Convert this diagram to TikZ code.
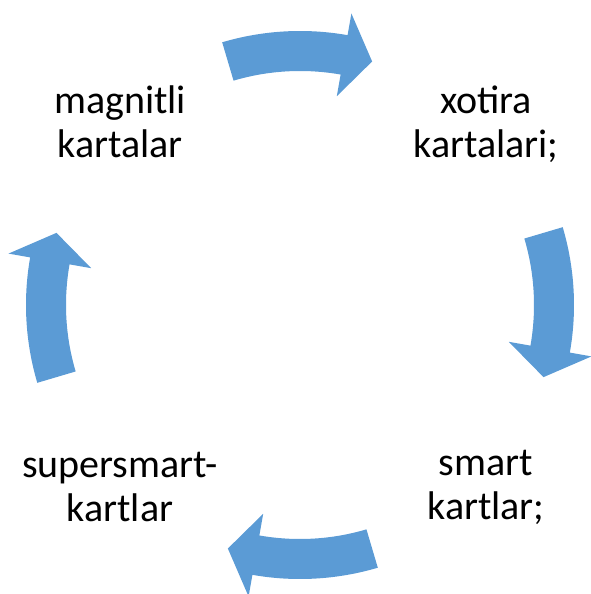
\documentclass[tikz,border=0pt]{standalone}
\usepackage{fontspec}
\setmainfont{Carlito}
\definecolor{arrowblue}{HTML}{5B9BD5}
\tikzset{
  lbl/.style={align=center, inner sep=0pt, font=\fontsize{40}{44}\selectfont, text=black},
  cyc/.style={fill=arrowblue, draw=none}
}
\newcommand{\cycarrow}[1]{%
  \fill[cyc] ({#1+16.5}:274pt) arc[start angle={#1+16.5}, end angle={#1-10}, radius=274pt]
    -- ({#1-10}:296pt) -- ({#1-16.5}:254pt) -- ({#1-10}:212pt) -- ({#1-10}:234pt)
    arc[start angle={#1-10}, end angle={#1+16.5}, radius=234pt] -- cycle;}
\begin{document}
\begin{tikzpicture}
\useasboundingbox (-300pt,-289pt) rectangle (290pt,305pt);
\coordinate (c) at (0,0);
\cycarrow{90}
\cycarrow{0}
\cycarrow{-90}
\cycarrow{180}
\node[lbl] (mag) at (-180pt,183pt) {magnitli\\kartalar};
\node[lbl] (xot) at (186pt,181pt) {xotira\\kartalari;};
\node[lbl] (sma) at (186pt,-182pt) {smart\\kartlar;};
\node[lbl] (sup) at (-180pt,-182pt) {supersmart-\\kartlar};
\end{tikzpicture}
\end{document}
